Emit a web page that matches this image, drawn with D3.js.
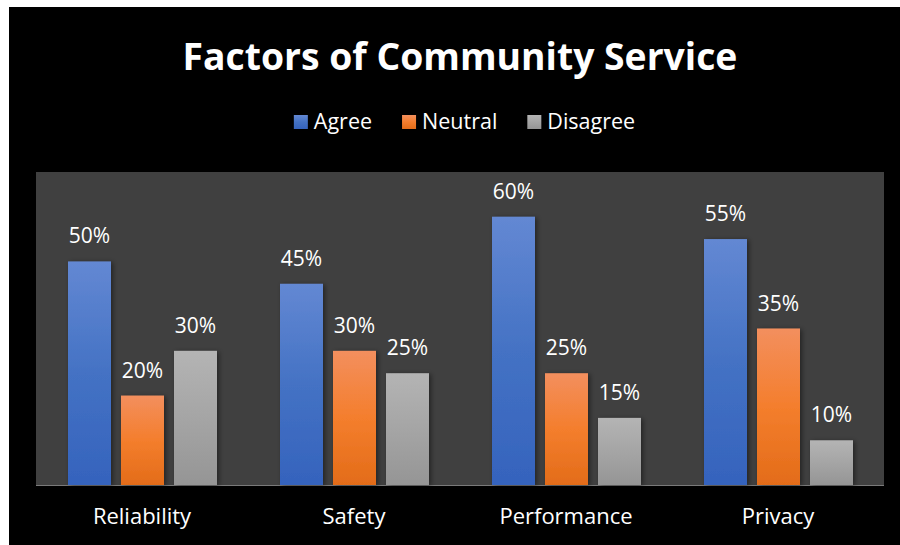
<!DOCTYPE html>
<html>
<head>
<meta charset="utf-8">
<script src="https://cdn.jsdelivr.net/npm/d3@7"></script>
<style>
  html, body { margin: 0; padding: 0; background: #fff; }
  svg { display: block; }
</style>
</head>
<body>
<svg id="chart" width="900" height="545"></svg>
<script>
const categories = ['Reliability', 'Safety', 'Performance', 'Privacy'];
const seriesNames = ['Agree', 'Neutral', 'Disagree'];
const agree = [0.50, 0.45, 0.60, 0.55];
const neutral = [0.20, 0.30, 0.25, 0.35];
const disagree = [0.30, 0.25, 0.15, 0.10];
const yMax = 0.7;

// gradient stops per series (top, middle, bottom)
const palette = {
  Agree: ['#6388d3', '#4472c4', '#3563bd'],
  Neutral: ['#f38f5e', '#f47e2d', '#e36c19'],
  Disagree: ['#b4b4b4', '#a5a5a5', '#959595']
};

const rows = categories.map((c, i) => ({
  cat: c,
  values: [
    { key: 'Agree', v: agree[i] },
    { key: 'Neutral', v: neutral[i] },
    { key: 'Disagree', v: disagree[i] }
  ]
}));

const svg = d3.select('#chart');
const font = "'Open Sans', sans-serif";

// chart background
svg.append('rect')
  .attr('x', 9).attr('y', 7)
  .attr('width', 891).attr('height', 538)
  .attr('fill', '#000');

const defs = svg.append('defs');
seriesNames.forEach(name => {
  const g = defs.append('linearGradient')
    .attr('id', 'grad-' + name)
    .attr('x1', 0).attr('y1', 0).attr('x2', 0).attr('y2', 1);
  g.append('stop').attr('offset', '0%').attr('stop-color', palette[name][0]);
  g.append('stop').attr('offset', '50%').attr('stop-color', palette[name][1]);
  g.append('stop').attr('offset', '100%').attr('stop-color', palette[name][2]);
});
defs.append('filter')
  .attr('id', 'shadow')
  .attr('x', '-20%').attr('y', '-20%').attr('width', '150%').attr('height', '150%')
  .append('feDropShadow')
  .attr('dx', 2).attr('dy', 1)
  .attr('stdDeviation', 2.5)
  .attr('flood-color', '#000')
  .attr('flood-opacity', 0.45);

const plot = { left: 36, right: 884, top: 172, bottom: 485 };

svg.append('rect')
  .attr('x', plot.left).attr('y', plot.top)
  .attr('width', plot.right - plot.left).attr('height', plot.bottom - plot.top)
  .attr('fill', '#404040');

const x0 = d3.scaleBand()
  .domain(categories)
  .range([plot.left, plot.right])
  .padding(0);

const x1 = d3.scaleBand()
  .domain(seriesNames)
  .range([32, 181])
  .paddingInner(10 / 53)
  .paddingOuter(0);

const y = d3.scaleLinear()
  .domain([0, yMax])
  .range([plot.bottom, plot.top]);

// baseline
svg.append('line')
  .attr('x1', plot.left).attr('x2', plot.right)
  .attr('y1', y(0) + 0.5).attr('y2', y(0) + 0.5)
  .attr('stroke', '#7a7a7a')
  .attr('stroke-width', 1);

const groups = svg.append('g')
  .selectAll('g')
  .data(rows)
  .join('g')
  .attr('transform', d => `translate(${x0(d.cat)},0)`);

groups.selectAll('rect')
  .data(d => d.values)
  .join('rect')
  .attr('x', d => x1(d.key))
  .attr('y', d => y(d.v))
  .attr('width', x1.bandwidth())
  .attr('height', d => y(0) - y(d.v))
  .attr('fill', d => `url(#grad-${d.key})`)
  .attr('filter', 'url(#shadow)');

groups.selectAll('text.value')
  .data(d => d.values)
  .join('text')
  .attr('class', 'value')
  .attr('x', d => x1(d.key) + x1.bandwidth() / 2)
  .attr('y', d => y(d.v) - 18)
  .attr('text-anchor', 'middle')
  .attr('fill', '#fff')
  .style('font-family', font)
  .style('font-size', '21px')
  .text(d => d3.format('.0%')(d.v));

// category axis labels
const xAxis = d3.axisBottom(x0).tickSize(0).tickPadding(0);
const axisG = svg.append('g')
  .attr('transform', `translate(0,${plot.bottom})`)
  .call(xAxis);
axisG.select('.domain').remove();
axisG.selectAll('text')
  .attr('dy', null)
  .attr('y', 39)
  .attr('fill', '#fff')
  .style('font-family', font)
  .style('font-size', '22px');

// title
svg.append('text')
  .attr('x', 460).attr('y', 70)
  .attr('text-anchor', 'middle')
  .attr('fill', '#fff')
  .style('font-family', font)
  .style('font-weight', 'bold')
  .style('font-size', '37.3px')
  .text('Factors of Community Service');

// legend
const legend = svg.append('g');
const items = legend.selectAll('g')
  .data(seriesNames)
  .join('g');
items.append('rect')
  .attr('width', 14).attr('height', 14)
  .attr('y', -14)
  .attr('fill', d => `url(#grad-${d})`);
items.append('text')
  .attr('x', 20)
  .attr('fill', '#fff')
  .style('font-family', font)
  .style('font-size', '21.5px')
  .text(d => d);
let cursor = 0;
items.each(function () {
  const w = d3.select(this).select('text').node().getComputedTextLength() + 20;
  d3.select(this).attr('transform', `translate(${cursor},0)`);
  cursor += w + 30;
});
const legendW = cursor - 30;
legend.attr('transform', `translate(${464.5 - legendW / 2},129)`);
</script>
</body>
</html>
